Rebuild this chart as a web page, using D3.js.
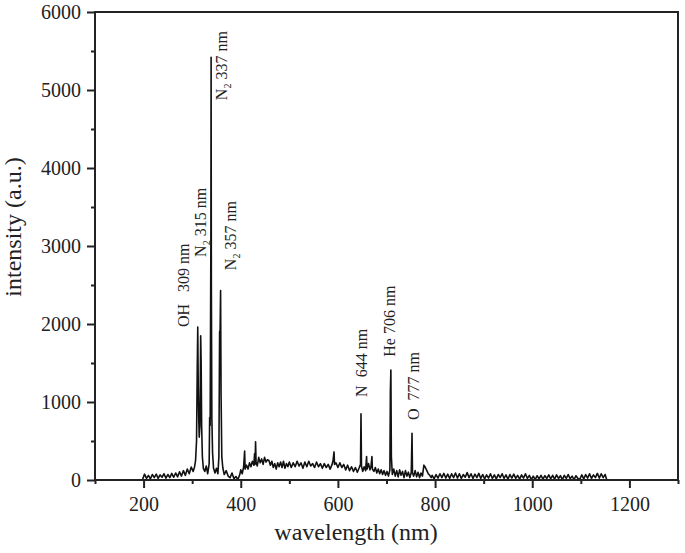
<!DOCTYPE html>
<html lang="en">

<head>
  <meta charset="UTF-8">
  <title>Emission spectrum</title>
  <script src="https://cdnjs.cloudflare.com/ajax/libs/d3/7.8.5/d3.min.js"></script>
  <style>
    body { margin: 0; background: #fff; }
    svg text { font-family: "Times New Roman", Times, "Liberation Serif", serif; fill: #222; }
  </style>
</head>

<body>
  <svg></svg>
  <script>
    // spectrum (nm, a.u.)
    const wavelength = [
      198, 202, 206, 210, 214, 218, 222, 226, 230, 234, 238, 242, 246, 250, 254, 258, 262, 266, 270, 274,
      278, 282, 286, 290, 294, 298, 302,
      305, 307, 309, 310.5, 311.5, 312.5, 313.5, 314.5, 316, 317.5, 318.5, 319.5, 321, 323, 326, 329, 332,
      335, 336, 337, 338.5, 339, 339.5, 340.5, 342, 344, 347, 350, 353, 355, 356.5, 357.5, 358.5, 359.5,
      361, 363, 366, 370, 374, 378, 382, 386, 390, 394, 398,
      400, 403, 406, 408, 409, 412, 415, 418, 421, 424, 427, 428.5, 429.5, 430.5, 431.5, 434, 437, 440,
      443, 446, 449, 452, 455, 458, 461, 464, 467, 470, 473, 476, 479, 482, 485, 488, 491, 494, 497, 500,
      504, 508, 512, 516, 520, 524, 528, 532, 536, 540, 544, 548, 552, 556, 560, 564, 568, 572, 576, 580,
      584, 588, 590, 592, 593, 596, 600,
      604, 608, 612, 616, 620, 624, 628, 632, 636, 640, 644, 646.5, 647.5, 648.5, 651, 654, 657, 659, 660,
      663, 666, 668, 670, 671, 674, 677, 680, 683, 686, 689, 692, 695, 698, 701, 704, 707, 708, 709, 710,
      712, 715, 718, 721, 724, 727, 730, 733, 736, 739, 742, 745, 748, 751, 752.5, 753.5, 756, 759, 762,
      765, 768, 771, 774, 777, 780, 783, 786, 789, 792,
      794, 798, 802, 806, 810, 814, 818, 822, 826, 830, 834, 838, 842, 846, 850, 854, 858, 862, 866, 870,
      874, 878, 882, 886, 890, 894, 898, 902, 906, 910, 914, 918, 922, 926, 930, 934, 938, 942, 946, 950,
      954, 958, 962, 966, 970, 974, 978, 982, 986, 990, 994, 998, 1002, 1006, 1010, 1014, 1018, 1022, 1026,
      1030, 1034, 1038, 1042, 1046, 1050, 1054, 1058, 1062, 1066, 1070, 1074, 1078, 1082, 1086, 1090, 1094,
      1098, 1102, 1106, 1110, 1114, 1118, 1122, 1126, 1130, 1134, 1138, 1142, 1146, 1150, 1153
    ];
    const intensity = [
      10, 75, 20, 60, 15, 70, 30, 75, 20, 65, 35, 80, 25, 70, 30, 85, 35, 90, 40, 105,
      50, 120, 60, 140, 80, 165, 110,
      170, 250, 500, 1450, 1960, 1200, 800, 550, 700, 1850, 1500, 700, 300, 150, 110, 180, 80,
      210, 800, 700, 3040, 5420, 2500, 800, 350, 150, 90, 150, 80, 300, 1900, 1920, 2430, 1100,
      300, 160, 70, 120, 50, 30, 90, 15, 45, 5, 70,
      130, 80, 170, 370, 140, 190, 140, 220, 170, 240, 190, 340, 200, 490, 230, 180, 290, 220,
      270, 200, 290, 230, 260, 250, 190, 240, 160, 210, 140, 220, 170, 230, 160, 240, 150, 210, 170, 230,
      160, 220, 170, 240, 180, 220, 150, 230, 170, 240, 180, 210, 160, 230, 170, 210, 150, 210, 160, 200,
      140, 200, 250, 360, 200, 220, 160,
      220, 160, 200, 130, 190, 120, 170, 110, 160, 100, 160, 200, 850, 180, 110, 170, 120, 300, 140,
      210, 130, 170, 300, 140, 110, 160, 90, 140, 80, 130, 70, 120, 60, 110, 50, 130, 1150, 1410, 300,
      70, 140, 50, 120, 40, 130, 60, 110, 30, 120, 50, 100, 30, 100, 600, 90, 50, 120, 40,
      100, 30, 90, 50, 190, 160, 120, 80, 60, 30,
      60, 15, 70, 25, 80, 30, 85, 25, 75, 20, 80, 30, 90, 25, 80, 20, 70, 35, 95, 30,
      80, 20, 75, 30, 85, 20, 70, 15, 65, 25, 80, 20, 65, 15, 70, 30, 80, 20, 65, 10,
      70, 25, 75, 20, 60, 10, 65, 25, 80, 20, 60, 5, 50, 5, 55, 15, 60, 10, 55,
      20, 65, 15, 60, 10, 65, 20, 55, 5, 60, 20, 70, 15, 50, 5, 55, 20,
      10, 65, 15, 70, 25, 80, 20, 65, 30, 85, 25, 80, 30, 70, 10
    ];

    const xMajor = [200, 400, 600, 800, 1000, 1200];
    const xMinor = [100, 300, 500, 700, 900, 1100, 1300];
    const yMajor = [0, 1000, 2000, 3000, 4000, 5000, 6000];
    const yMinor = [500, 1500, 2500, 3500, 4500, 5500];

    // line labels: text parts, and the (wavelength, intensity) where the rotated text starts
    const peakNames = ['OH', 'N', 'N', 'N', 'N', 'He', 'O'];
    const peakSub = ['', '2', '2', '2', '', '', ''];
    const peakGap = ['   ', ' ', ' ', ' ', '  ', ' ', '  '];
    const peakNm = ['309 nm', '315 nm', '337 nm', '357 nm', '644 nm', '706 nm', '777 nm'];
    const labelAtNm = [294.5, 328.5, 371.5, 390, 660, 717.5, 767];
    const labelAtVal = [1960, 2860, 4870, 2690, 1065, 1580, 770];

    const width = 685, height = 553;
    const mLeft = 95, mRight = 678, mTop = 12, mBottom = 480;
    const serif = '"Times New Roman", Times, "Liberation Serif", serif';

    const svg = d3.select('svg').attr('width', width).attr('height', height);

    const x = d3.scaleLinear().domain([100, 1300]).range([mLeft, mRight]);
    const y = d3.scaleLinear().domain([0, 6000]).range([mBottom, mTop]);

    const data = wavelength.map((w, i) => ({ w: w, v: intensity[i] }));

    svg.append('path')
      .datum(data)
      .attr('d', d3.line().x(d => x(d.w)).y(d => y(d.v)))
      .style('fill', 'none')
      .style('stroke', '#111')
      .style('stroke-width', '1.6px')
      .style('stroke-linejoin', 'round');

    // axes
    function styleAxis(g) {
      g.select('.domain').remove();
      g.selectAll('line').style('stroke', '#222').style('stroke-width', '2px');
      g.selectAll('text').style('font-size', '20px').style('fill', '#222')
        .style('font-family', serif);
    }

    svg.append('g').attr('transform', `translate(0,${mBottom})`)
      .call(d3.axisBottom(x).tickValues(xMajor).tickSize(8).tickPadding(9).tickFormat(d3.format('d')))
      .call(styleAxis);
    svg.append('g').attr('transform', `translate(0,${mBottom})`)
      .call(d3.axisBottom(x).tickValues(xMinor).tickSize(4).tickFormat(''))
      .call(styleAxis);
    svg.append('g').attr('transform', `translate(${mLeft},0)`)
      .call(d3.axisLeft(y).tickValues(yMajor).tickSize(8).tickPadding(6).tickFormat(d3.format('d')))
      .call(styleAxis);
    svg.append('g').attr('transform', `translate(${mLeft},0)`)
      .call(d3.axisLeft(y).tickValues(yMinor).tickSize(4).tickFormat(''))
      .call(styleAxis);

    svg.append('rect')
      .attr('x', mLeft).attr('y', mTop)
      .attr('width', mRight - mLeft).attr('height', mBottom - mTop)
      .style('fill', 'none').style('stroke', '#222').style('stroke-width', '2px');

    // axis titles
    svg.append('text')
      .attr('x', 356).attr('y', 540)
      .attr('text-anchor', 'middle')
      .style('font-size', '24px')
      .text('wavelength (nm)');

    svg.append('text')
      .attr('transform', 'translate(21,227) rotate(-90)')
      .attr('text-anchor', 'middle')
      .style('font-size', '24px')
      .text('intensity (a.u.)');

    // peak labels
    const lab = svg.selectAll('text.peak')
      .data(peakNames)
      .enter()
      .append('text')
      .attr('class', 'peak')
      .attr('transform', (d, i) => `translate(${x(labelAtNm[i])},${y(labelAtVal[i])}) rotate(-90)`)
      .style('font-size', '16px')
      .style('white-space', 'pre');

    lab.append('tspan').text(d => d);
    lab.append('tspan')
      .attr('dy', 4)
      .style('font-size', '10px')
      .text((d, i) => peakSub[i]);
    lab.append('tspan')
      .attr('dy', (d, i) => peakSub[i] ? -4 : 0)
      .text((d, i) => peakGap[i] + peakNm[i]);
  </script>
</body>

</html>
